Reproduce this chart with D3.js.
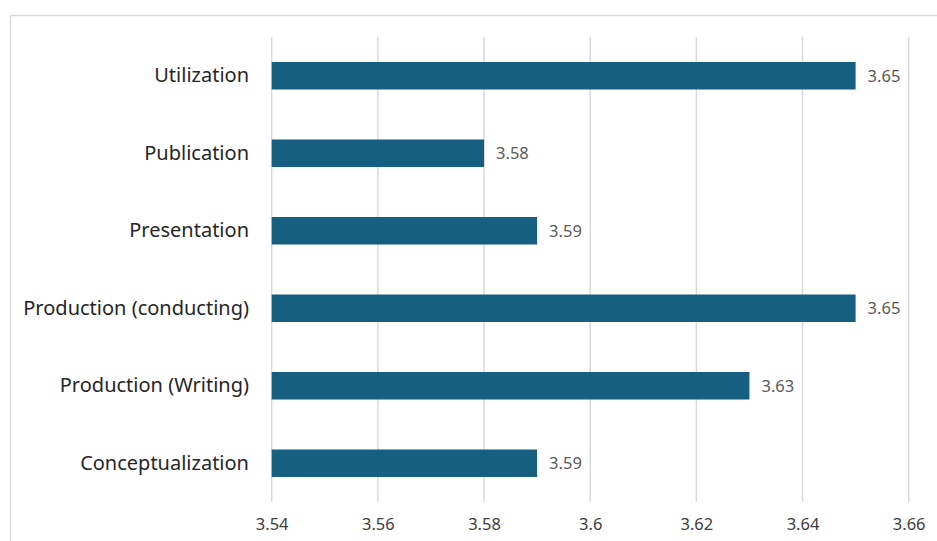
<!DOCTYPE html>
<html><head><meta charset="utf-8">
<script src="https://cdn.jsdelivr.net/npm/d3@7/dist/d3.min.js"></script>
<style>body{margin:0;background:#fff;}svg{display:block;font-family:"Noto Sans",sans-serif;}</style>
</head><body><svg id="c" width="937" height="541"></svg>
<script>
const categories = ["Utilization","Publication","Presentation","Production (conducting)","Production (Writing)","Conceptualization"];
const values = [3.65,3.58,3.59,3.65,3.63,3.59];
const tickValues = [3.54,3.56,3.58,3.6,3.62,3.64,3.66];
const tickLabels = ["3.54","3.56","3.58","3.6","3.62","3.64","3.66"];

const svg = d3.select("#c");
// frame
svg.append("rect").attr("x",10.5).attr("y",15.5).attr("width",940).attr("height",540)
  .attr("fill","none").attr("stroke","#d9d9d9").attr("stroke-width",1.5);

const x = d3.scaleLinear().domain([3.54,3.66]).range([271.7,908.7]);
const y = d3.scaleBand().domain(categories).range([37,502]).paddingInner(0.645).paddingOuter(0.3225);

const g = svg.append("g");
g.selectAll("line.grid").data(tickValues).join("line").attr("class","grid")
  .attr("x1",d=>x(d)).attr("x2",d=>x(d)).attr("y1",37).attr("y2",502)
  .attr("stroke","#d9d9d9").attr("stroke-width",1.5);

const xAxis = d3.axisBottom(x).tickValues(tickValues).tickFormat((d,i)=>tickLabels[i]).tickSize(0).tickPadding(0);
const ax = svg.append("g").attr("transform","translate(0,518)").call(xAxis);
ax.select(".domain").remove();
ax.selectAll("text").attr("font-size",16.5).attr("fill","#404040").attr("font-family","'Noto Sans',sans-serif");

g.selectAll("rect.bar").data(values).join("rect").attr("class","bar")
  .attr("x",x(3.54)).attr("y",(d,i)=>y(categories[i]))
  .attr("width",d=>x(d)-x(3.54)).attr("height",y.bandwidth())
  .attr("fill","#175f80");

g.selectAll("text.val").data(values).join("text").attr("class","val")
  .attr("x",d=>x(d)+12).attr("y",(d,i)=>y(categories[i])+y.bandwidth()/2)
  .attr("dy","0.35em").attr("font-size",16.5).attr("fill","#595959").text(d=>d.toFixed(2));

const yAxis = d3.axisLeft(y).tickSize(0).tickPadding(0);
const ay = svg.append("g").attr("transform","translate(249,0)").call(yAxis);
ay.select(".domain").remove();
ay.selectAll("text").attr("font-size",20).attr("fill","#262626").attr("font-family","'Noto Sans',sans-serif");
</script></body></html>
